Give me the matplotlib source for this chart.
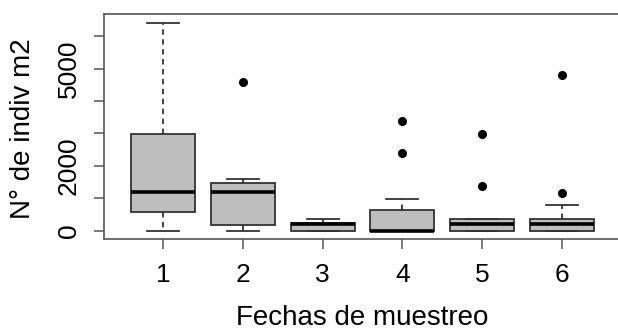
import matplotlib
matplotlib.use("Agg")
import matplotlib.pyplot as plt

# box statistics (individuals per m2)
fechas = ["1", "2", "3", "4", "5", "6"]
whisker_low = [0, 0, 0, 0, 0, 0]
q1 = [585, 185, 0, 0, 0, 0]
medians = [1200, 1200, 200, 0, 215, 215]
q3 = [2985, 1480, 245, 650, 370, 370]
whisker_high = [6400, 1600, 370, 985, 370, 800]
outliers = [[], [4590], [], [3385, 2400], [2985, 1385], [4790, 1170]]

y_ticks = [0, 1000, 2000, 3000, 4000, 5000, 6000]
y_ticklabels = ["0", "", "2000", "", "", "5000", ""]

plt.rcParams["font.family"] = ["Liberation Sans", "DejaVu Sans"]

fig = plt.figure(figsize=(6.18, 3.31), dpi=100)
# axes box in pixels: left 104, right 621 (runs past the right edge), top 14, bottom 239
ax = fig.add_axes([104 / 618, 1 - 239 / 331, (621 - 104) / 618, (239 - 14) / 331])

stats = []
for i in range(len(fechas)):
    stats.append({
        "label": fechas[i],
        "whislo": whisker_low[i],
        "q1": q1[i],
        "med": medians[i],
        "q3": q3[i],
        "whishi": whisker_high[i],
        "fliers": outliers[i],
    })

ax.bxp(
    stats,
    positions=range(1, len(fechas) + 1),
    widths=0.8,
    patch_artist=True,
    boxprops=dict(facecolor="#bebebe", edgecolor="#333333", linewidth=1.3),
    medianprops=dict(color="black", linewidth=2.6, solid_capstyle="butt"),
    whiskerprops=dict(color="#333333", linewidth=1.3, linestyle=(0, (3, 2.5))),
    capprops=dict(color="#333333", linewidth=1.3),
    capwidths=0.4,
    flierprops=dict(marker="o", markerfacecolor="black", markeredgecolor="black",
                    markersize=5.5),
)

ax.set_xlim(0.26, 6.74)
ax.set_ylim(-250, 6680)
ax.set_yticks(y_ticks)
ax.set_yticklabels(y_ticklabels, rotation=90, va="center", fontsize=19)
ax.set_xticks(range(1, len(fechas) + 1))
ax.set_xticklabels(fechas, fontsize=19)
ax.tick_params(direction="out", length=7, width=1.1, color="#555555")
ax.tick_params(axis="x", pad=10)
ax.tick_params(axis="y", pad=9.5)
for side in ax.spines.values():
    side.set_color("#555555")
    side.set_linewidth(1.2)
ax.spines["right"].set_visible(False)

ax.set_ylabel("N° de indiv m2", fontsize=20, va="center")
ax.set_xlabel("Fechas de muestreo", fontsize=20, va="center")
ax.yaxis.set_label_coords((23 - 104) / 517, 0.491)
ax.xaxis.set_label_coords(0.5, (239 - 318) / 225)

fig.savefig("out.png", dpi=100)
plt.close(fig)
